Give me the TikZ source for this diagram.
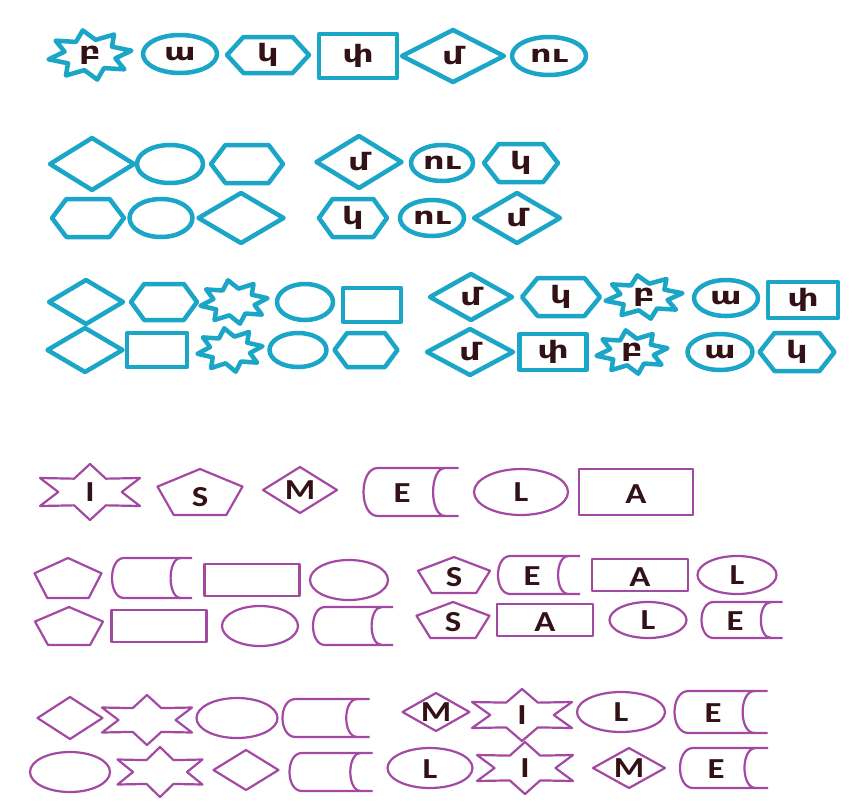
\documentclass[tikz,border=0pt]{standalone}
\usepackage{fontspec}
\newfontfamily\armfont{DejaVu Sans}[FakeStretch=1.4]
\newfontfamily\latfont{Carlito}[FakeStretch=1.2]
\definecolor{cyanln}{RGB}{27,166,200}
\definecolor{purpln}{RGB}{163,73,164}
\definecolor{txtc}{RGB}{50,18,22}
% shape macros: centre x, centre y, width, height (pixel units)
\newcommand{\ShDmd}[4]{\draw (#1-#3/2,#2) -- (#1,#2-#4/2) -- (#1+#3/2,#2) -- (#1,#2+#4/2) -- cycle;}
\newcommand{\ShEll}[4]{\draw (#1,#2) ellipse [x radius=#3/2, y radius=#4/2];}
\newcommand{\ShRect}[4]{\draw (#1-#3/2,#2-#4/2) rectangle (#1+#3/2,#2+#4/2);}
\newcommand{\ShHex}[4]{\draw (#1-#3/2,#2) -- (#1-0.3*#3,#2-#4/2) -- (#1+0.3*#3,#2-#4/2) -- (#1+#3/2,#2) -- (#1+0.3*#3,#2+#4/2) -- (#1-0.3*#3,#2+#4/2) -- cycle;}
\newcommand{\ShPent}[4]{\draw (#1,#2-#4/2) -- (#1+#3/2,#2-#4/2+0.382*#4) -- (#1+0.309*#3,#2+#4/2) -- (#1-0.309*#3,#2+#4/2) -- (#1-#3/2,#2-#4/2+0.382*#4) -- cycle;}
% star: cx cy w h points rotation innerratio
\newcommand{\ShStar}[7]{\draw ({#1+#3/2*cos(#6)},{#2-#4/2*sin(#6)})
  \foreach \k in {1,...,#5}{ -- ({#1+#7*#3/2*cos(#6+(\k-0.5)*360/#5)},{#2-#7*#4/2*sin(#6+(\k-0.5)*360/#5)}) -- ({#1+#3/2*cos(#6+\k*360/#5)},{#2-#4/2*sin(#6+\k*360/#5)}) } -- cycle;}
% six-point star of visible width W and height H
\newcommand{\ShHexa}[4]{\ShStar{#1}{#2}{#3/0.866}{#4}{6}{90}{0.55}}
% stored-data shape
\newcommand{\ShStore}[4]{%
  \draw ({#1+#3/2},{#2-#4/2}) -- ({#1-0.35*#3},{#2-#4/2}) .. controls ({#1-0.55*#3},{#2-#4/2}) and ({#1-0.55*#3},{#2+#4/2}) .. ({#1-0.35*#3},{#2+#4/2}) -- ({#1+#3/2},{#2+#4/2});
  \draw ({#1+0.36*#3},{#2-#4/2}) .. controls ({#1+0.19*#3},{#2-#4/2}) and ({#1+0.19*#3},{#2+#4/2}) .. ({#1+0.36*#3},{#2+#4/2});}
\tikzset{
  cyanset/.style={draw=cyanln, line width=4.5pt, line join=round},
  purpset/.style={draw=purpln, line width=2.2pt, line join=round},
  armtxt/.style={font=\armfont\bfseries\fontsize{24}{24}\selectfont, text=txtc, inner sep=0pt},
  lattxt/.style={font=\latfont\bfseries\fontsize{29}{29}\selectfont, text=txtc, inner sep=0pt},
}
\begin{document}
\begin{tikzpicture}[x=1pt,y=-1pt]
\useasboundingbox (0,0) rectangle (861,809);
\fill[white] (0,0) rectangle (861,809);

\begin{scope}[cyanset]
% row 1
\ShStar{90}{55}{84}{50}{8}{10}{0.62}
\ShEll{180}{54}{74}{38}
\ShHex{268}{55}{82}{36}
\ShRect{358}{56}{78}{44}
\ShDmd{453}{56}{102}{52}
\ShEll{549}{56}{74}{38}
% row 2
\ShDmd{92}{164}{84}{52}
\ShEll{170}{164}{66}{38}
\ShHex{247}{164}{72}{38}
\ShDmd{359}{162}{85}{52}
\ShEll{442}{163}{62}{36}
\ShHex{521}{163}{74}{38}
% row 3
\ShHex{88}{218}{72}{38}
\ShEll{161}{218}{63}{38}
\ShDmd{241}{218}{85}{50}
\ShHex{353}{218}{68}{38}
\ShEll{432}{218}{64}{36}
\ShDmd{517}{218}{86}{50}
% row 4
\ShDmd{86}{302}{74}{44}
\ShHex{164}{302}{66}{36}
\ShStar{234}{302}{68}{44}{8}{10}{0.62}
\ShEll{305}{302}{56}{36}
\ShRect{372}{305}{58}{34}
\ShDmd{471}{297}{82}{46}
\ShHex{561}{297}{78}{38}
\ShStar{644}{297}{78}{44}{8}{10}{0.62}
\ShEll{726}{298}{64}{36}
\ShRect{803}{300}{70}{36}
% row 5
\ShDmd{85}{350}{75}{44}
\ShRect{157}{350}{60}{34}
\ShStar{230}{350}{66}{44}{8}{10}{0.62}
\ShEll{298}{350}{57}{34}
\ShHex{366}{350}{63}{34}
\ShDmd{470}{352}{86}{46}
\ShRect{553}{352}{67}{36}
\ShStar{632}{352}{72}{44}{8}{10}{0.62}
\ShEll{720}{352}{65}{36}
\ShHex{797}{352}{75}{38}
\end{scope}

\begin{scope}[armtxt]
\node (a1) at (90,55) {բ};
\node (a2) at (180,54) {ա};
\node (a3) at (268,55) {կ};
\node (a4) at (358,56) {փ};
\node (a5) at (453,56) {մ};
\node (a6) at (549,56) {ու};
\node (b1) at (359,162) {մ};
\node (b2) at (442,163) {ու};
\node (b3) at (521,163) {կ};
\node (c1) at (353,218) {կ};
\node (c2) at (432,218) {ու};
\node (c3) at (517,218) {մ};
\node (d1) at (471,297) {մ};
\node (d2) at (561,297) {կ};
\node (d3) at (644,297) {բ};
\node (d4) at (726,298) {ա};
\node (d5) at (803,300) {փ};
\node (e1) at (470,352) {մ};
\node (e2) at (553,352) {փ};
\node (e3) at (632,352) {բ};
\node (e4) at (720,352) {ա};
\node (e5) at (797,352) {կ};
\end{scope}

\begin{scope}[purpset]
% row 6
\ShHexa{90}{492}{100}{56}
\ShPent{200}{492}{85}{46}
\ShDmd{300}{490}{74}{46}
\ShStore{411}{492}{95}{48}
\ShEll{521}{492}{94}{46}
\ShRect{636}{492}{114}{46}
% row 7
\ShPent{68}{578}{67}{40}
\ShStore{152}{578}{80}{40}
\ShRect{252}{580}{95}{32}
\ShEll{349}{580}{78}{40}
\ShPent{454}{575}{72}{36}
\ShStore{539}{575}{82}{38}
\ShRect{640}{575}{96}{32}
\ShEll{737}{575}{79}{38}
% row 8
\ShPent{69}{626}{68}{38}
\ShRect{159}{626}{95}{32}
\ShEll{260}{626}{76}{40}
\ShStore{353}{626}{80}{38}
\ShPent{453}{620}{73}{36}
\ShRect{545}{620}{96}{32}
\ShEll{648}{620}{77}{36}
\ShStore{742}{620}{81}{36}
% row 9
\ShDmd{70}{718}{65}{42}
\ShHexa{147}{720}{90}{50}
\ShEll{237}{718}{81}{40}
\ShStore{326}{718}{87}{38}
\ShDmd{436}{712}{67}{38}
\ShHexa{522}{715}{100}{52}
\ShEll{621}{712}{88}{40}
\ShStore{721}{712}{93}{42}
% row 10
\ShEll{70}{772}{80}{40}
\ShHexa{160}{772}{85}{50}
\ShDmd{246}{770}{65}{40}
\ShStore{331}{772}{83}{38}
\ShEll{430}{768}{85}{40}
\ShHexa{525}{768}{96}{52}
\ShDmd{629}{768}{72}{40}
\ShStore{724}{768}{88}{40}
\end{scope}

\begin{scope}[lattxt]
\node (f1) at (90,492) {I};
\node (f2) at (200,497) {S};
\node (f3) at (300,490) {M};
\node (f4) at (402,493) {E};
\node (f5) at (521,492) {L};
\node (f6) at (636,494) {A};
\node (g1) at (454,577) {S};
\node (g2) at (532,576) {E};
\node (g3) at (640,577) {A};
\node (g4) at (737,575) {L};
\node (h1) at (453,622) {S};
\node (h2) at (545,622) {A};
\node (h3) at (648,620) {L};
\node (h4) at (735,621) {E};
\node (i1) at (436,712) {M};
\node (i2) at (522,715) {I};
\node (i3) at (621,712) {L};
\node (i4) at (713,713) {E};
\node (j1) at (430,769) {L};
\node (j2) at (525,768) {I};
\node (j3) at (629,768) {M};
\node (j4) at (716,769) {E};
\end{scope}
\end{tikzpicture}
\end{document}
